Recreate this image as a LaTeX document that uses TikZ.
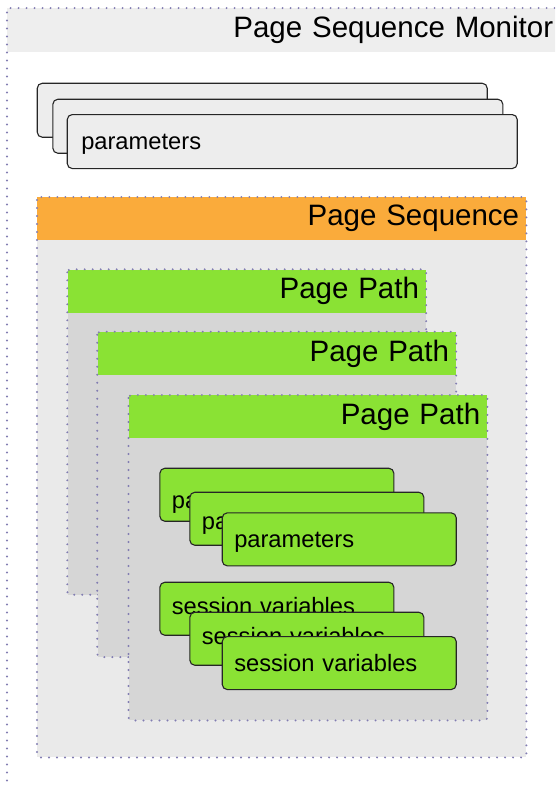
\documentclass[tikz,border=0pt]{standalone}
\usepackage{fontspec}
\setmainfont{Liberation Sans}
\usepackage{tikz}
\usetikzlibrary{positioning}

\definecolor{dotblue}{RGB}{130,125,178}
\definecolor{monitorgray}{RGB}{238,238,238}
\definecolor{seqgray}{RGB}{234,234,234}
\definecolor{pathgray}{RGB}{214,214,214}
\definecolor{boxgray}{RGB}{237,237,237}
\definecolor{seqorange}{RGB}{250,171,59}
\definecolor{pathgreen}{RGB}{138,226,52}

\tikzset{
    frame/.style={draw=dotblue, line width=2.2pt, line cap=round, dash pattern=on 0pt off 8pt},
    body/.style={anchor=north west, inner sep=0pt},
    band/.style={anchor=north west, inner xsep=7pt, inner ysep=0pt, minimum height=43pt,
        text width=#1, align=right, font=\fontsize{29.5}{32}\selectfont},
    item/.style={anchor=north west, draw=black!85, line width=1.1pt, rounded corners=5pt,
        fill=pathgreen, minimum height=53pt, text width=210pt, inner xsep=12pt,
        text height=16pt, text depth=0pt,
        align=left, font=\fontsize{23.7}{26}\selectfont},
}

\begin{document}
\begin{tikzpicture}[x=1pt, y=-1pt]
    \path[use as bounding box, clip] (0,0) rectangle (555,785);

    % Monitor
    \node (monitor) [body, minimum width=600pt, minimum height=820pt] at (7,8) {};
    \node (monhead) [band=539pt, fill=monitorgray, minimum height=44pt] at (monitor.north west) {Page Sequence Monitor};
    \draw[frame] (monitor.south west) -- (monitor.north west) -- (monitor.north east);

    \node (mpar1) [item, fill=boxgray, text width=422pt, inner xsep=14pt, minimum height=54pt,
        below right=74.7pt and 29.7pt of monitor.north west] {};
    \node (mpar2) [item, fill=boxgray, text width=422pt, inner xsep=14pt, minimum height=54pt,
        below right=16pt and 15.6pt of mpar1.north west] {};
    \node (mpar3) [item, fill=boxgray, text width=422pt, inner xsep=14pt, minimum height=54pt,
        below right=15.3pt and 14.4pt of mpar2.north west] {parameters};

    % Page Sequence
    \node (seq) [body, fill=seqgray, minimum width=489pt, minimum height=560pt,
        below right=189pt and 30pt of monitor.north west] {};
    \node (seqhead) [band=475pt, fill=seqorange] at (seq.north west) {Page Sequence};
    \draw[frame, rounded corners=3pt] (seq.north west) rectangle (seq.south east);

    % Page Paths
    \node (path1) [body, fill=pathgray, minimum width=358.5pt, minimum height=325pt,
        below right=72.3pt and 30.3pt of seq.north west] {};
    \node (path1head) [band=344.5pt, fill=pathgreen] at (path1.north west) {Page Path};
    \draw[frame, rounded corners=3pt] (path1.north west) rectangle (path1.south east);

    \node (path2) [body, fill=pathgray, minimum width=358.5pt, minimum height=325pt,
        below right=62.4pt and 30pt of path1.north west] {};
    \node (path2head) [band=344.5pt, fill=pathgreen] at (path2.north west) {Page Path};
    \draw[frame, rounded corners=3pt] (path2.north west) rectangle (path2.south east);

    \node (path3) [body, fill=pathgray, minimum width=358.5pt, minimum height=325pt,
        below right=63.3pt and 31.2pt of path2.north west] {};
    \node (path3head) [band=344.5pt, fill=pathgreen] at (path3.north west) {Page Path};
    \draw[frame, rounded corners=3pt] (path3.north west) rectangle (path3.south east);

    % Parameters and session variables
    \node (par1) [item, text height=27pt, below right=72.7pt and 30.8pt of path3.north west] {parameters};
    \node (par2) [item, text height=22pt, below right=24pt and 30pt of par1.north west] {parameters};
    \node (par3) [item, below right=20.6pt and 32.4pt of par2.north west] {parameters};

    \node (ses1) [item, text height=12pt, below right=114pt and 0pt of par1.north west] {session variables};
    \node (ses2) [item, text height=12pt, below right=30pt and 30pt of ses1.north west] {session variables};
    \node (ses3) [item, below right=24.3pt and 32.4pt of ses2.north west] {session variables};
\end{tikzpicture}
\end{document}
